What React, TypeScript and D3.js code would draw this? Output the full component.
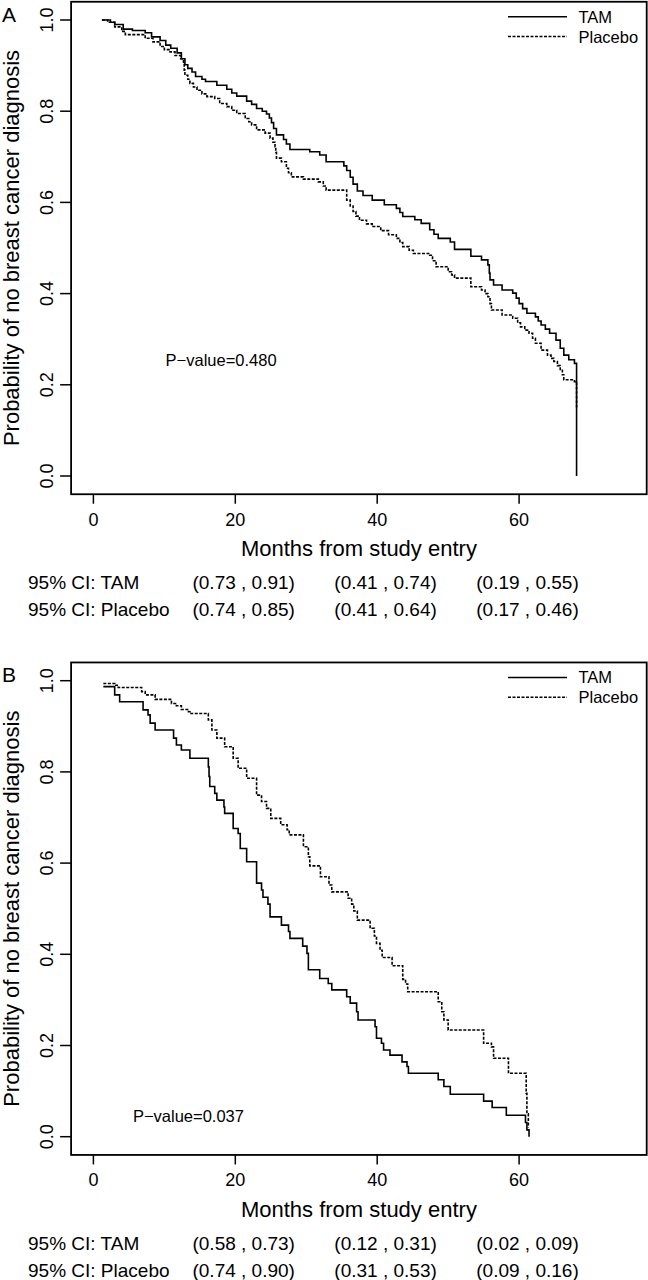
import React from 'react';
import * as d3 from 'd3';

// ---------- data ----------
const xTicks = [0, 20, 40, 60];
const yTicks = [0, 0.2, 0.4, 0.6, 0.8, 1.0];
const ciMonths = [20, 40, 60];

const tamA: [number, number][] = [
  [1.2, 1.0], [2.4, 0.995], [3.0, 0.99], [4.2, 0.98], [5.5, 0.977], [7.3, 0.972], [8.2, 0.963],
  [9.4, 0.955], [10.2, 0.945], [10.9, 0.938], [11.8, 0.928], [12.4, 0.915], [12.9, 0.902],
  [13.3, 0.894], [13.9, 0.886], [14.4, 0.876], [15.3, 0.87], [15.8, 0.865], [17.4, 0.857],
  [18.8, 0.848], [19.5, 0.84], [20.2, 0.833], [21.6, 0.822], [22.3, 0.815], [23.0, 0.806],
  [23.8, 0.8], [24.4, 0.794], [24.8, 0.785], [25.1, 0.775], [25.4, 0.762], [25.8, 0.748],
  [26.8, 0.738], [27.2, 0.728], [27.7, 0.716], [30.5, 0.711], [31.9, 0.704], [32.8, 0.689],
  [35.3, 0.68], [35.7, 0.67], [36.2, 0.655], [36.6, 0.64], [37.2, 0.625], [38.0, 0.615],
  [39.3, 0.605], [41.0, 0.595], [42.7, 0.587], [43.2, 0.578], [43.6, 0.569], [45.3, 0.562],
  [46.2, 0.554], [47.4, 0.54], [48.0, 0.53], [48.6, 0.521], [50.3, 0.513], [50.9, 0.497],
  [53.2, 0.482], [54.7, 0.474], [55.6, 0.463], [55.8, 0.445], [55.9, 0.43], [56.4, 0.419],
  [57.6, 0.408], [59.1, 0.401], [59.6, 0.39], [60.0, 0.378], [60.5, 0.367], [61.1, 0.357],
  [62.3, 0.349], [62.7, 0.34], [63.1, 0.331], [63.7, 0.322], [64.3, 0.313], [65.2, 0.298],
  [65.8, 0.28], [66.3, 0.265], [67.0, 0.255], [67.8, 0.247], [68.1, 0.0],
];

const placeboA: [number, number][] = [
  [1.2, 1.0], [2.0, 0.995], [3.0, 0.985], [4.0, 0.975], [4.5, 0.968], [7.3, 0.96], [8.4, 0.952],
  [9.4, 0.942], [10.0, 0.935], [10.8, 0.93], [11.5, 0.922], [12.3, 0.915], [12.7, 0.905],
  [12.8, 0.89], [12.9, 0.879], [13.3, 0.87], [13.6, 0.861], [14.1, 0.853], [14.6, 0.846],
  [15.3, 0.838], [16.0, 0.832], [17.1, 0.828], [17.8, 0.817], [18.8, 0.81], [19.5, 0.802],
  [20.2, 0.795], [21.4, 0.784], [21.9, 0.777], [22.3, 0.77], [23.0, 0.759], [24.2, 0.752],
  [24.9, 0.741], [25.3, 0.732], [25.6, 0.722], [25.7, 0.71], [25.8, 0.697], [26.5, 0.689],
  [27.2, 0.675], [27.5, 0.665], [27.9, 0.656], [29.6, 0.651], [31.7, 0.645], [32.4, 0.636],
  [32.8, 0.627], [35.7, 0.605], [36.2, 0.592], [36.6, 0.58], [37.0, 0.57], [37.5, 0.561],
  [38.5, 0.553], [39.3, 0.547], [40.5, 0.538], [41.6, 0.529], [42.7, 0.521], [43.2, 0.512],
  [43.6, 0.503], [44.5, 0.495], [45.1, 0.488], [47.4, 0.484], [47.8, 0.472], [48.3, 0.459],
  [50.0, 0.448], [50.5, 0.441], [50.9, 0.434], [53.2, 0.415], [54.7, 0.408], [55.2, 0.4],
  [55.6, 0.393], [55.9, 0.378], [56.1, 0.364], [57.6, 0.353], [59.1, 0.346], [59.8, 0.336],
  [60.2, 0.327], [60.8, 0.32], [61.4, 0.313], [61.9, 0.302], [62.3, 0.291], [63.1, 0.276],
  [64.0, 0.265], [64.5, 0.258], [64.9, 0.251], [65.4, 0.242], [65.8, 0.232], [66.1, 0.222],
  [66.3, 0.211], [67.8, 0.207], [68.1, 0.15],
];

const tamB: [number, number][] = [
  [1.4, 0.987], [3.0, 0.969], [3.7, 0.954], [7.0, 0.936], [7.7, 0.925], [8.0, 0.907],
  [8.7, 0.892], [11.3, 0.874], [11.7, 0.859], [12.4, 0.848], [13.6, 0.83], [16.2, 0.811],
  [16.3, 0.79], [16.4, 0.768], [17.1, 0.753], [17.4, 0.738], [18.4, 0.723], [18.5, 0.709],
  [19.7, 0.676], [20.4, 0.665], [20.7, 0.632], [21.6, 0.603], [23.0, 0.556], [23.7, 0.541],
  [23.9, 0.525], [24.6, 0.51], [24.9, 0.482], [26.5, 0.464], [27.5, 0.45], [27.7, 0.435],
  [29.5, 0.418], [30.1, 0.402], [30.3, 0.366], [31.9, 0.347], [33.1, 0.336], [33.6, 0.322],
  [35.7, 0.307], [36.2, 0.293], [37.1, 0.274], [37.3, 0.256], [39.7, 0.241], [39.9, 0.216],
  [40.6, 0.205], [40.9, 0.19], [41.8, 0.179], [43.5, 0.164], [44.2, 0.154], [44.4, 0.139],
  [48.6, 0.125], [49.4, 0.11], [50.3, 0.093], [55.0, 0.078], [56.2, 0.064], [58.2, 0.047],
  [60.9, 0.031], [61.1, 0.015], [61.4, 0.0],
];

const placeboB: [number, number][] = [
  [1.4, 0.994], [3.0, 0.99], [3.5, 0.985], [6.8, 0.976], [7.3, 0.969], [8.7, 0.959],
  [11.0, 0.95], [11.7, 0.945], [12.4, 0.937], [13.4, 0.932], [13.6, 0.928], [16.2, 0.914],
  [16.7, 0.892], [17.4, 0.874], [18.5, 0.855], [19.7, 0.83], [20.4, 0.808], [21.6, 0.786],
  [23.0, 0.749], [23.7, 0.735], [24.4, 0.72], [25.0, 0.698], [26.4, 0.684], [27.3, 0.673],
  [27.6, 0.662], [29.6, 0.636], [30.3, 0.614], [30.5, 0.594], [32.0, 0.57], [33.2, 0.552],
  [33.6, 0.537], [35.9, 0.523], [36.4, 0.51], [36.7, 0.495], [37.2, 0.475], [39.0, 0.457],
  [39.6, 0.44], [39.9, 0.424], [40.4, 0.409], [40.7, 0.393], [42.1, 0.375], [43.6, 0.345],
  [44.0, 0.335], [44.3, 0.318], [48.6, 0.296], [49.1, 0.274], [49.4, 0.256], [50.0, 0.234],
  [55.0, 0.205], [56.1, 0.197], [56.4, 0.172], [58.5, 0.139], [61.0, 0.095], [61.1, 0.05],
  [61.3, 0.02],
];

const ciTamA = ['(0.73 , 0.91)', '(0.41 , 0.74)', '(0.19 , 0.55)'];
const ciPlaceboA = ['(0.74 , 0.85)', '(0.41 , 0.64)', '(0.17 , 0.46)'];
const ciTamB = ['(0.58 , 0.73)', '(0.12 , 0.31)', '(0.02 , 0.09)'];
const ciPlaceboB = ['(0.74 , 0.90)', '(0.31 , 0.53)', '(0.09 , 0.16)'];

const FONT = "'Liberation Sans', Arial, Helvetica, sans-serif";

type PanelProps = {
  y0: number;
  letter: string;
  tam: [number, number][];
  placebo: [number, number][];
  pText: string;
  pAt: [number, number];
  ciTam: string[];
  ciPlacebo: string[];
};

function Panel({ y0, letter, tam, placebo, pText, pAt, ciTam, ciPlacebo }: PanelProps) {
  const x = d3.scaleLinear().domain([0, 60]).range([93.4, 519.1]);
  const y = d3.scaleLinear().domain([0, 1]).range([y0 + 476, y0 + 20]);
  const line = d3
    .line<[number, number]>()
    .x((d) => x(d[0]))
    .y((d) => y(d[1]))
    .curve(d3.curveStepAfter);
  const fl = 71.1;
  const fr = 646.7;
  const ft = y(1.04);
  const fb = y(-0.04);
  const midY = (ft + fb) / 2;
  const midX = (fl + fr) / 2;
  return (
    <g fontFamily={FONT} fill="#000">
      <text x={2} y={y0 + 21.5} fontSize={21}>{letter}</text>
      <rect x={fl} y={ft} width={fr - fl} height={fb - ft} fill="none" stroke="#000" strokeWidth={1.8} />
      {yTicks.map((t) => (
        <g key={'y' + t}>
          <line x1={fl} x2={fl - 11} y1={y(t)} y2={y(t)} stroke="#000" strokeWidth={1.5} />
          <text transform={`translate(53,${y(t)}) rotate(-90)`} textAnchor="middle" fontSize={18}>
            {t.toFixed(1)}
          </text>
        </g>
      ))}
      {xTicks.map((t) => (
        <g key={'x' + t}>
          <line x1={x(t)} x2={x(t)} y1={fb} y2={fb + 9.5} stroke="#000" strokeWidth={1.5} />
          <text x={x(t)} y={fb + 31.5} textAnchor="middle" fontSize={18}>{t}</text>
        </g>
      ))}
      <text transform={`translate(19,${midY}) rotate(-90)`} textAnchor="middle" fontSize={22}>
        Probability of no breast cancer diagnosis
      </text>
      <text x={midX} y={y0 + 556} textAnchor="middle" fontSize={22}>Months from study entry</text>

      <path d={line(tam) || ''} fill="none" stroke="#000" strokeWidth={1.6} />
      <path d={line(placebo) || ''} fill="none" stroke="#000" strokeWidth={1.6} strokeDasharray="3 1.5" />

      <line x1={508} x2={567} y1={ft + 15} y2={ft + 15} stroke="#000" strokeWidth={1.6} />
      <text x={578.5} y={ft + 15} dy="0.36em" fontSize={16.5}>TAM</text>
      <line x1={508} x2={567} y1={ft + 34.8} y2={ft + 34.8} stroke="#000" strokeWidth={1.6} strokeDasharray="3 1.5" />
      <text x={578.5} y={ft + 34.8} dy="0.36em" fontSize={16.5}>Placebo</text>

      <text x={x(pAt[0])} y={y(pAt[1])} dy="0.36em" textAnchor="middle" fontSize={16.5}>{pText}</text>

      <text x={28} y={y0 + 582} dy="0.36em" fontSize={19}>95% CI: TAM</text>
      <text x={28} y={y0 + 609} dy="0.36em" fontSize={19}>95% CI: Placebo</text>
      {ciMonths.map((m, i) => (
        <g key={'ci' + m}>
          <text x={x(m) + 8.4} y={y0 + 582} dy="0.36em" textAnchor="middle" fontSize={19}>{ciTam[i]}</text>
          <text x={x(m) + 8.4} y={y0 + 609} dy="0.36em" textAnchor="middle" fontSize={19}>{ciPlacebo[i]}</text>
        </g>
      ))}
    </g>
  );
}

export default function App() {
  return (
    <svg
      width={648}
      height={1280}
      viewBox="0 0 648 1280"
      style={{ position: 'absolute', left: 0, top: 0, background: '#fff' }}
    >
      <rect x={0} y={0} width={648} height={1280} fill="#fff" />
      <Panel
        y0={0}
        letter="A"
        tam={tamA}
        placebo={placeboA}
        pText="P−value=0.480"
        pAt={[18, 0.254]}
        ciTam={ciTamA}
        ciPlacebo={ciPlaceboA}
      />
      <Panel
        y0={660.7}
        letter="B"
        tam={tamB}
        placebo={placeboB}
        pText="P−value=0.037"
        pAt={[13.4, 0.045]}
        ciTam={ciTamB}
        ciPlacebo={ciPlaceboB}
      />
    </svg>
  );
}
